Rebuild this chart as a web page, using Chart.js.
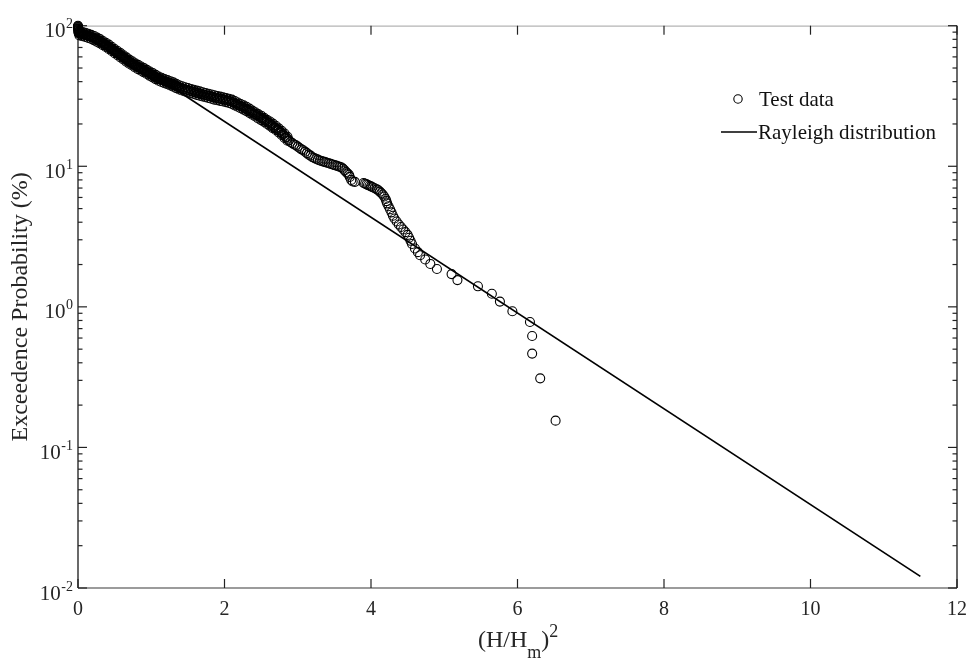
<!DOCTYPE html>
<html><head><meta charset="utf-8">
<script src="https://cdn.jsdelivr.net/npm/chart.js@4/dist/chart.umd.min.js"></script>
<style>html,body{margin:0;padding:0;background:#fff}#wrap{width:970px;height:660px}</style>
</head><body><div id="wrap"><canvas id="c" width="970" height="660"></canvas></div>
<script>
// Test data: (H/Hm)^2 values and exceedance probability (%).
// Centre of the dense band, then its upper and lower edges, then the sparse tail.
const testX = [
0,0,0,0.002,0.003,0.004,0.005,0.006,0.007,0.008,0.009,0.01,
0.01,0.02,0.03,0.04,0.05,0.06,0.07,0.08,0.09,0.10,
0.11,0.12,0.13,0.14,0.15,0.16,0.17,0.18,0.19,0.20,
0.21,0.22,0.23,0.24,0.25,0.26,0.27,0.28,0.29,0.30,
0.31,0.32,0.33,0.34,0.35,0.36,0.37,0.38,0.39,0.40,
0.41,0.42,0.43,0.44,0.45,0.46,0.47,0.48,0.49,0.50,
0.51,0.52,0.53,0.54,0.55,0.56,0.57,0.58,0.59,0.60,
0.61,0.62,0.63,0.64,0.65,0.66,0.67,0.68,0.69,0.70,
0.71,0.72,0.73,0.74,0.75,0.76,0.77,0.78,0.79,0.80,
0.81,0.82,0.83,0.84,0.85,0.86,0.87,0.88,0.89,0.90,
0.91,0.92,0.93,0.94,0.95,0.96,0.97,0.98,0.99,1.00,
1.01,1.02,1.03,1.04,1.05,1.06,1.07,1.08,1.09,1.10,
1.11,1.12,1.13,1.14,1.15,1.16,1.17,1.18,1.19,1.20,
1.21,1.22,1.23,1.24,1.25,1.26,1.27,1.28,1.29,1.30,
1.31,1.32,1.33,1.34,1.35,1.36,1.37,1.38,1.39,1.40,
1.42,1.44,1.46,1.48,1.50,1.52,1.54,1.56,1.58,1.60,
1.62,1.64,1.66,1.68,1.70,1.72,1.74,1.76,1.78,1.80,
1.82,1.84,1.86,1.88,1.90,1.92,1.94,1.96,1.98,2.00,
2.02,2.04,2.06,2.08,2.10,2.12,2.14,2.16,2.18,2.20,
2.22,2.24,2.26,2.28,2.30,2.32,2.34,2.36,2.38,2.40,
2.42,2.44,2.46,2.48,2.50,2.52,2.54,2.56,2.58,2.60,
2.62,2.64,2.66,2.68,2.70,2.72,2.74,2.76,2.78,2.80,
2.82,2.84,2.86,2.88,2.90,
2.925,2.95,2.975,3.0,3.025,3.05,3.075,3.1,3.125,3.15,3.175,3.2,
3.225,3.25,3.275,3.3,3.325,3.35,3.375,3.4,3.425,3.45,3.475,3.5,
3.525,3.55,3.575,3.6,3.62,3.64,3.66,3.68,3.70,3.71,3.73,3.75,3.78,
3.9,3.92,3.94,3.96,3.98,4.0,4.02,4.05,4.08,4.1,4.12,4.14,4.16,4.18,4.2,4.21,4.22,4.24,4.26,4.28,4.3,4.32,4.35,
4.38,4.41,4.44,4.47,4.5,4.52,4.54,4.56,4.6,4.64,4.67,4.74,4.81,4.9,5.1,5.18,5.46,5.65,5.76,5.93,6.17,6.2,6.2,6.31,6.52,
// upper edge of the dense band
0.02,0.06,0.10,0.14,0.18,0.22,0.26,0.30,0.34,0.38,0.42,0.46,0.50,0.54,0.58,0.62,0.66,0.70,0.74,0.78,0.82,0.86,0.90,0.94,0.98,
1.02,1.06,1.10,1.14,1.18,1.22,1.26,1.30,1.34,1.38,1.42,1.46,1.50,1.54,1.58,1.62,1.66,1.70,1.74,1.78,1.82,1.86,1.90,1.94,1.98,
2.02,2.06,2.10,2.14,2.18,2.22,2.26,2.30,2.34,2.38,2.42,2.46,2.50,2.54,2.58,2.62,2.66,2.70,2.74,2.78,2.82,2.86,
// lower edge of the dense band
0.02,0.06,0.10,0.14,0.18,0.22,0.26,0.30,0.34,0.38,0.42,0.46,0.50,0.54,0.58,0.62,0.66,0.70,0.74,0.78,0.82,0.86,0.90,0.94,0.98,
1.02,1.06,1.10,1.14,1.18,1.22,1.26,1.30,1.34,1.38,1.42,1.46,1.50,1.54,1.58,1.62,1.66,1.70,1.74,1.78,1.82,1.86,1.90,1.94,1.98,
2.02,2.06,2.10,2.14,2.18,2.22,2.26,2.30,2.34,2.38,2.42,2.46,2.50,2.54,2.58,2.62,2.66,2.70,2.74,2.78,2.82,2.86];
const testY = [
100,99,98,97,96,95,94,93,92,91,90,89,
88.5,88.2,88.0,87.7,87.5,87.2,86.9,86.6,86.3,86.0,
85.7,85.3,85.0,84.6,84.3,83.9,83.6,83.2,82.9,82.5,
82.0,81.5,81.0,80.5,80.0,79.5,79.0,78.5,78.0,77.5,
77.0,76.4,75.9,75.3,74.8,74.2,73.7,73.1,72.6,72.0,
71.4,70.8,70.2,69.6,69.0,68.4,67.8,67.2,66.6,66.0,
65.4,64.9,64.3,63.8,63.2,62.7,62.1,61.6,61.0,60.5,
60.0,59.5,59.0,58.5,58.0,57.5,57.0,56.5,56.0,55.5,
55.1,54.7,54.3,53.9,53.5,53.1,52.7,52.3,51.9,51.5,
51.2,50.8,50.5,50.2,49.9,49.5,49.2,48.9,48.5,48.2,
47.9,47.6,47.2,46.9,46.6,46.3,45.9,45.6,45.3,45.0,
44.7,44.4,44.1,43.8,43.5,43.2,42.9,42.6,42.3,42.0,
41.8,41.6,41.4,41.2,41.0,40.8,40.6,40.4,40.2,40.0,
39.8,39.6,39.5,39.3,39.1,38.9,38.7,38.6,38.4,38.2,
38.0,37.8,37.5,37.3,37.1,36.9,36.7,36.4,36.2,36.0,
35.8,35.5,35.3,35.0,34.8,34.5,34.3,34.0,33.8,33.5,
33.3,33.1,32.9,32.7,32.5,32.3,32.1,31.9,31.7,31.5,
31.3,31.1,30.9,30.7,30.5,30.4,30.2,30.1,29.9,29.8,
29.6,29.4,29.2,29.0,28.8,28.5,28.1,27.8,27.4,27.1,
26.8,26.5,26.2,25.9,25.6,25.2,24.8,24.5,24.1,23.7,
23.4,23.1,22.7,22.4,22.1,21.8,21.4,21.1,20.7,20.4,
20.1,19.7,19.4,19.0,18.7,18.3,18.0,17.6,17.3,16.9,
16.5,16.1,15.7,15.3,14.9,
14.6,14.3,14.1,13.8,13.5,13.2,13.0,12.7,12.4,12.1,11.9,11.6,
11.45,11.3,11.15,11.0,10.9,10.8,10.7,10.6,10.5,10.4,10.3,10.2,
10.1,10.0,9.9,9.8,9.6,9.35,9.1,8.9,8.7,8.4,8.0,7.8,7.75,
7.6,7.52,7.44,7.35,7.27,7.2,7.1,6.98,6.85,6.75,6.6,6.45,6.3,6.1,5.85,5.65,5.45,5.2,4.95,4.7,4.45,4.25,4.05,
3.85,3.7,3.55,3.4,3.25,3.1,2.95,2.8,2.6,2.45,2.33,2.17,2.02,1.86,1.71,1.55,1.40,1.24,1.09,0.93,0.78,0.62,0.465,0.31,0.155,
// upper edge
91.3,90.3,89.0,87.6,86.1,84.4,82.3,80.2,77.9,75.7,73.3,70.8,68.3,66.0,63.8,61.6,59.5,57.4,55.8,54.1,52.6,51.2,49.9,48.5,47.2,
46.0,44.7,43.5,42.6,41.8,41.0,40.3,39.5,38.6,37.7,37.1,36.5,36.0,35.5,35.0,34.5,34.1,33.6,33.2,32.8,32.4,32.0,31.6,31.3,30.9,
30.6,30.2,29.8,29.1,28.4,27.7,27.1,26.5,25.7,24.9,24.2,23.5,22.9,22.1,21.4,20.8,20.1,19.4,18.6,17.9,17.1,16.2,
// lower edge
85.2,84.2,83.1,81.7,80.4,78.7,76.8,74.9,72.7,70.6,68.4,66.1,63.8,61.6,59.5,57.5,55.5,53.6,52.1,50.5,49.1,47.8,46.6,45.3,44.0,
42.9,41.7,40.6,39.8,39.0,38.3,37.6,36.9,36.0,35.2,34.6,34.1,33.6,33.1,32.7,32.2,31.8,31.4,31.0,30.6,30.2,29.8,29.5,29.2,28.9,
28.6,28.2,27.8,27.1,26.5,25.9,25.3,24.7,24.0,23.3,22.6,21.9,21.3,20.7,20.0,19.4,18.7,18.1,17.4,16.7,15.9,15.2];
// Rayleigh distribution line endpoints
const rayX = [0, 11.5];
const rayY = [100, 0.0121];
const seriesNames = ['Test data', 'Rayleigh distribution'];
const xTickValues = [0, 2, 4, 6, 8, 10, 12];
const yTickExponents = [-2, -1, 0, 1, 2];
const xTitleParts = ['(H/H', 'm', ')', '2'];
const yTitle = 'Exceedence Probability (%)';

const FONT = '"Liberation Serif", "Times New Roman", serif';

const axesPlugin = {
  id: 'matlabAxes',
  beforeDatasetsDraw(chart) {
    const ctx = chart.ctx, a = chart.chartArea;
    const xs = chart.scales.x, ys = chart.scales.y;
    ctx.save();
    ctx.lineWidth = 1.3;
    ctx.strokeStyle = '#b4b4b4';
    ctx.beginPath(); ctx.moveTo(a.left, a.top + 0.5); ctx.lineTo(a.right, a.top + 0.5); ctx.stroke();
    ctx.strokeStyle = '#7a7a7a';
    ctx.beginPath(); ctx.moveTo(a.left, a.bottom); ctx.lineTo(a.right, a.bottom); ctx.stroke();
    ctx.strokeStyle = '#1a1a1a';
    ctx.beginPath(); ctx.moveTo(a.left, a.top); ctx.lineTo(a.left, a.bottom); ctx.stroke();
    ctx.beginPath(); ctx.moveTo(a.right, a.top); ctx.lineTo(a.right, a.bottom); ctx.stroke();
    ctx.strokeStyle = '#222'; ctx.lineWidth = 1.2;
    xs.ticks.forEach(t => {
      const px = xs.getPixelForValue(t.value);
      ctx.beginPath(); ctx.moveTo(px, a.bottom); ctx.lineTo(px, a.bottom - 9); ctx.stroke();
      ctx.beginPath(); ctx.moveTo(px, a.top); ctx.lineTo(px, a.top + 9); ctx.stroke();
    });
    yTickExponents.forEach((e, i) => {
      for (let m = 1; m <= 9; m++) {
        if (m > 1 && i === yTickExponents.length - 1) break;
        const v = m * Math.pow(10, e);
        const py = ys.getPixelForValue(v);
        const len = m === 1 ? 9 : 4.5;
        ctx.beginPath(); ctx.moveTo(a.left, py); ctx.lineTo(a.left + len, py); ctx.stroke();
        ctx.beginPath(); ctx.moveTo(a.right, py); ctx.lineTo(a.right - len, py); ctx.stroke();
      }
    });
    ctx.restore();
  },
  afterDraw(chart) {
    const ctx = chart.ctx, a = chart.chartArea;
    const xs = chart.scales.x, ys = chart.scales.y;
    ctx.save();
    ctx.fillStyle = '#262626';
    ctx.font = '20px ' + FONT;
    ctx.textAlign = 'center'; ctx.textBaseline = 'alphabetic';
    xs.ticks.forEach(t => {
      ctx.fillText(String(t.value), xs.getPixelForValue(t.value), a.bottom + 27);
    });
    ys.ticks.forEach(t => {
      const e = Math.round(Math.log10(t.value));
      const py = ys.getPixelForValue(t.value);
      ctx.textAlign = 'right';
      ctx.font = '14px ' + FONT;
      const sup = String(e);
      const supW = ctx.measureText(sup).width;
      const right = a.left - 5;
      ctx.fillText(sup, right, py + 2.5);
      ctx.font = '21px ' + FONT;
      ctx.fillText('10', right - supW - 0.5, py + 11.5);
    });
    // x axis title
    ctx.textAlign = 'left';
    const big = '24px ' + FONT, small = '18px ' + FONT;
    ctx.font = big; const w0 = ctx.measureText(xTitleParts[0]).width;
    const w2 = ctx.measureText(xTitleParts[2]).width;
    ctx.font = small; const w1 = ctx.measureText(xTitleParts[1]).width;
    let x0 = 478;
    ctx.font = big; ctx.fillText(xTitleParts[0], x0, 647); x0 += w0;
    ctx.font = small; ctx.fillText(xTitleParts[1], x0, 658); x0 += w1;
    ctx.font = big; ctx.fillText(xTitleParts[2], x0, 647); x0 += w2;
    ctx.font = small; ctx.fillText(xTitleParts[3], x0, 637);
    // y axis title
    ctx.save();
    ctx.translate(21, (a.top + a.bottom) / 2);
    ctx.rotate(-Math.PI / 2);
    ctx.font = '24px ' + FONT; ctx.textAlign = 'center'; ctx.textBaseline = 'middle';
    ctx.fillText(yTitle, 0, 0);
    ctx.restore();
    // legend
    ctx.fillStyle = '#111';
    ctx.font = '21px ' + FONT; ctx.textAlign = 'left'; ctx.textBaseline = 'middle';
    ctx.strokeStyle = '#000'; ctx.lineWidth = 1.1;
    ctx.beginPath(); ctx.arc(738, 99, 4.2, 0, Math.PI * 2); ctx.stroke();
    ctx.fillText(chart.data.datasets[0].label, 759, 100);
    ctx.lineWidth = 1.7;
    ctx.beginPath(); ctx.moveTo(721, 132); ctx.lineTo(757, 132); ctx.stroke();
    ctx.fillText(chart.data.datasets[1].label, 758, 133);
    ctx.restore();
  }
};

new Chart(document.getElementById('c'), {
  type: 'scatter',
  data: {
    datasets: [
      {
        label: seriesNames[0],
        data: testX.map((x, i) => ({ x: x, y: testY[i] })),
        showLine: false,
        pointStyle: 'circle',
        pointRadius: 4.5,
        pointBorderWidth: 1.1,
        borderColor: '#000',
        backgroundColor: 'rgba(0,0,0,0)',
        clip: false,
        order: 2
      },
      {
        label: seriesNames[1],
        data: rayX.map((x, i) => ({ x: x, y: rayY[i] })),
        showLine: true,
        pointRadius: 0,
        borderColor: '#000',
        borderWidth: 1.7,
        order: 1
      }
    ]
  },
  options: {
    responsive: false,
    animation: false,
    devicePixelRatio: 1,
    layout: { padding: { left: 0, right: 13, top: 25.7, bottom: 0 } },
    plugins: { legend: { display: false }, tooltip: { enabled: false } },
    scales: {
      x: {
        type: 'linear', min: 0, max: 12,
        afterBuildTicks: s => { s.ticks = xTickValues.map(v => ({ value: v })); },
        ticks: { display: false },
        grid: { display: false }, border: { display: false },
        afterFit: s => { s.height = 72; }
      },
      y: {
        type: 'logarithmic',
        min: Math.pow(10, yTickExponents[0]), max: Math.pow(10, yTickExponents[yTickExponents.length - 1]),
        afterBuildTicks: s => { s.ticks = yTickExponents.map(e => ({ value: Math.pow(10, e) })); },
        ticks: { display: false },
        grid: { display: false }, border: { display: false },
        afterFit: s => { s.width = 78; }
      }
    }
  },
  plugins: [axesPlugin]
});
</script>
</body></html>
